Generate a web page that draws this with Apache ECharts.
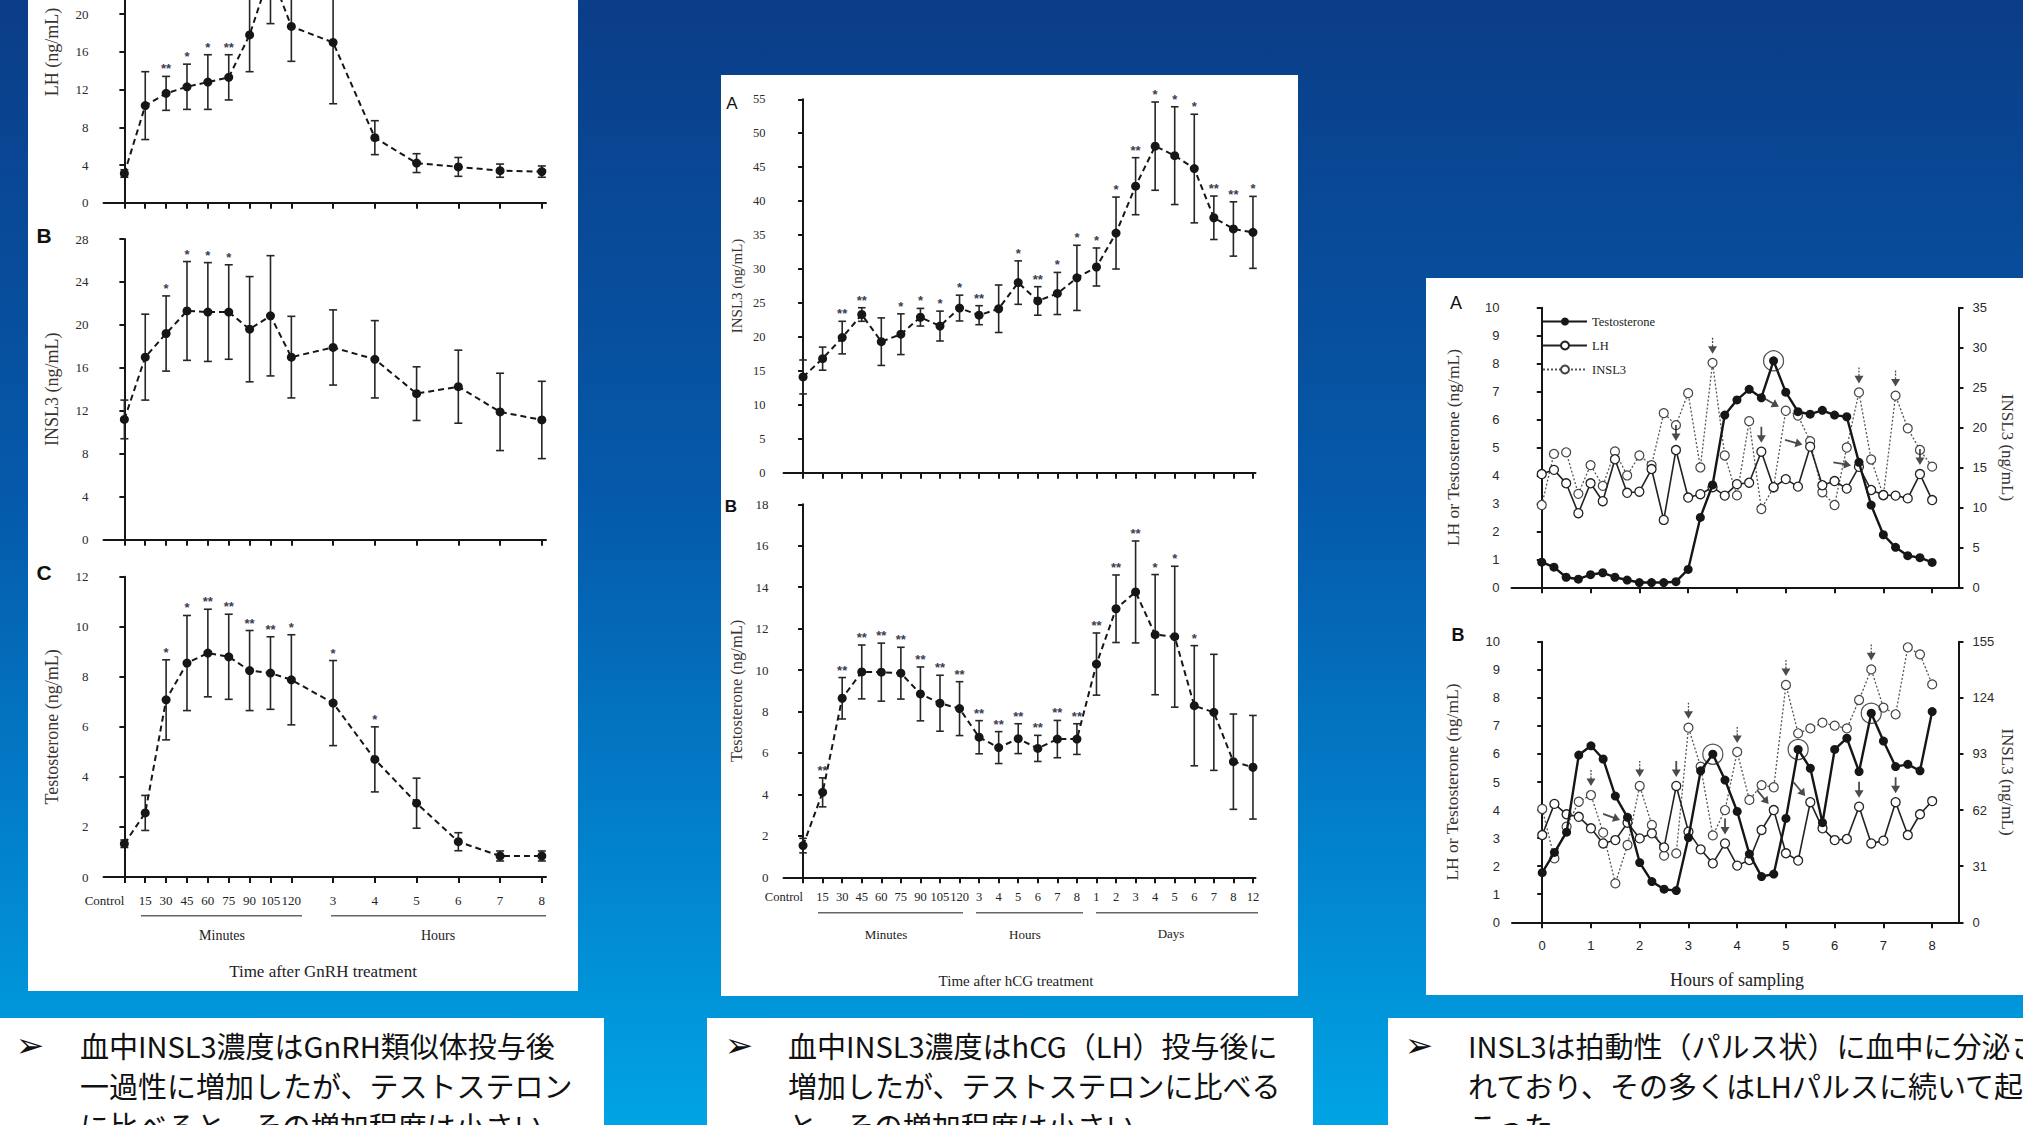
<!DOCTYPE html>
<html>
<head>
<meta charset="utf-8">
<script src="https://cdn.jsdelivr.net/npm/echarts@6.0.0/dist/echarts.min.js"></script>
<style>
  html, body { margin: 0; padding: 0; overflow: hidden; }
  #main { width: 2023px; height: 1125px; }
</style>
</head>
<body>
<div id="main"></div>
<script>
// ---- panel 1: GnRH treatment ----
const gnrhTimes = ['Control', '15', '30', '45', '60', '75', '90', '105', '120', '3', '4', '5', '6', '7', '8'];
const gnrhPos = [0, 1, 2, 3, 4, 5, 6, 7, 8, 10, 12, 14, 16, 18, 20];
const gnrhLH = [3.1, 10.3, 11.6, 12.3, 12.8, 13.3, 17.8, 24.5, 18.7, 17.0, 6.9, 4.2, 3.8, 3.4, 3.3];
const gnrhLHErr = [0.4, 3.6, 1.8, 2.4, 2.9, 2.4, 3.9, 5.5, 3.7, 6.5, 1.8, 1.0, 1.0, 0.7, 0.6];
const gnrhLHStars = ['', '', '**', '*', '*', '**', '', '', '', '', '', '', '', '', ''];
const gnrhINSL3 = [11.2, 17.0, 19.2, 21.3, 21.2, 21.2, 19.6, 20.85, 17.0, 17.9, 16.8, 13.6, 14.25, 11.9, 11.15];
const gnrhINSL3Err = [1.8, 4.0, 3.5, 4.6, 4.6, 4.4, 4.9, 5.6, 3.8, 3.5, 3.6, 2.5, 3.4, 3.6, 3.6];
const gnrhINSL3Stars = ['', '', '*', '*', '*', '*', '', '', '', '', '', '', '', '', ''];
const gnrhT = [1.33, 2.56, 7.08, 8.55, 8.95, 8.8, 8.25, 8.15, 7.88, 6.95, 4.7, 2.95, 1.41, 0.84, 0.84];
const gnrhTErr = [0.15, 0.7, 1.6, 1.9, 1.75, 1.7, 1.6, 1.45, 1.8, 1.7, 1.3, 1.0, 0.36, 0.2, 0.2];
const gnrhTStars = ['', '', '*', '*', '**', '**', '**', '**', '*', '*', '*', '', '', '', ''];

// ---- panel 2: hCG treatment ----
const hcgTimes = ['Control', '15', '30', '45', '60', '75', '90', '105', '120', '3', '4', '5', '6', '7', '8', '1', '2', '3', '4', '5', '6', '7', '8', '12'];
const hcgPos = hcgTimes.map((t, i) => i);
const hcgINSL3 = [14.1, 16.8, 19.9, 23.3, 19.3, 20.4, 22.9, 21.6, 24.25, 23.2, 24.15, 28.0, 25.3, 26.4, 28.7, 30.3, 35.3, 42.2, 48.1, 46.7, 44.8, 37.55, 35.9, 35.4];
const hcgINSL3Err = [2.5, 1.7, 2.4, 1.0, 3.5, 3.0, 1.3, 2.2, 1.9, 1.4, 3.5, 3.2, 2.1, 3.1, 4.8, 2.8, 5.3, 4.2, 6.5, 7.2, 8.0, 3.2, 4.0, 5.3];
const hcgINSL3Stars = ['', '', '**', '**', '', '*', '*', '*', '*', '**', '', '*', '**', '*', '*', '*', '*', '**', '*', '*', '*', '**', '**', '*'];
const hcgT = [1.53, 4.1, 8.64, 9.91, 9.9, 9.85, 8.85, 8.4, 8.14, 6.76, 6.26, 6.69, 6.22, 6.67, 6.67, 10.29, 12.96, 13.77, 11.71, 11.61, 8.28, 7.96, 5.58, 5.31];
const hcgTErr = [0.35, 0.7, 1.0, 1.3, 1.4, 1.25, 1.3, 1.35, 1.3, 0.8, 0.77, 0.72, 0.63, 0.9, 0.74, 1.5, 1.63, 2.46, 2.9, 3.4, 2.9, 2.8, 2.3, 2.5];
const hcgTStars = ['', '**', '**', '**', '**', '**', '**', '**', '**', '**', '**', '**', '**', '**', '**', '**', '**', '**', '*', '*', '*', '', '', ''];

// ---- panel 3: pulsatile sampling ----
const hourTicks = [0, 1, 2, 3, 4, 5, 6, 7, 8];
const hourLabels = ['0', '1', '2', '3', '4', '5', '6', '7', '8'];
const sampleHours = [0, 0.25, 0.5, 0.75, 1, 1.25, 1.5, 1.75, 2, 2.25, 2.5, 2.75, 3, 3.25, 3.5, 3.75, 4, 4.25, 4.5, 4.75, 5, 5.25, 5.5, 5.75, 6, 6.25, 6.5, 6.75, 7, 7.25, 7.5, 7.75, 8];
const pulseTA = [0.9, 0.72, 0.36, 0.29, 0.45, 0.52, 0.36, 0.26, 0.17, 0.17, 0.17, 0.2, 0.64, 2.5, 3.66, 6.16, 6.7, 7.08, 6.78, 8.1, 6.98, 6.28, 6.19, 6.33, 6.16, 6.1, 4.47, 2.94, 1.88, 1.43, 1.13, 1.06, 0.89];
const pulseLHA = [4.05, 4.2, 3.72, 2.65, 3.72, 3.08, 4.58, 3.38, 3.42, 4.23, 2.41, 4.91, 3.21, 3.33, 3.58, 3.28, 3.69, 3.74, 4.85, 3.58, 3.87, 3.6, 5.03, 3.65, 3.8, 3.53, 4.31, 3.48, 3.3, 3.28, 3.18, 4.05, 3.12];
const pulseINSL3A = [10.3, 16.7, 16.9, 11.7, 15.3, 12.7, 17.0, 14.0, 16.5, 15.3, 21.8, 20.3, 24.3, 15.0, 28.1, 16.5, 11.5, 20.8, 9.8, 12.5, 22.1, 21.5, 18.3, 11.9, 10.3, 17.5, 24.4, 16.0, 11.5, 24.0, 19.9, 17.2, 15.1];
const pulseTB = [1.77, 2.49, 3.21, 5.96, 6.29, 5.82, 4.5, 3.74, 2.13, 1.45, 1.18, 1.13, 3.02, 5.4, 5.99, 5.07, 3.95, 2.43, 1.63, 1.72, 3.7, 6.16, 5.49, 3.55, 6.16, 6.56, 5.37, 7.45, 6.46, 5.55, 5.63, 5.4, 7.51];
const pulseLHB = [3.11, 4.22, 3.85, 3.76, 3.35, 2.81, 2.93, 3.55, 2.99, 3.17, 2.67, 4.86, 3.23, 2.6, 2.1, 2.81, 2.02, 2.22, 3.29, 4.0, 2.46, 2.2, 4.28, 3.35, 2.93, 2.97, 4.12, 2.81, 2.91, 4.28, 3.11, 3.85, 4.32];
const pulseINSL3B = [62.6, 35.3, 52.8, 66.6, 70.3, 49.5, 21.5, 42.7, 75.3, 53.8, 36.8, 38.1, 107.5, 86.0, 48.0, 62.0, 94.1, 67.6, 75.8, 74.6, 131.1, 104.4, 107.1, 110.3, 108.6, 107.1, 122.8, 139.7, 118.6, 114.9, 151.9, 148.0, 131.4];

// annotations on panel 3 (sample indexes)
const lhArrowsA = [11, 18, 31];
const insl3ArrowsA = [14, 26, 29];
const ringsA = [19];
const diagINSL3A = [[20, -30]];
const diagLHA = [[22, -15], [26, -10]];
const lhArrowsB = [11, 15, 26, 29];
const insl3ArrowsB = [4, 8, 12, 16, 20, 27];
const ringsB = [14, 21, 27];
const diagLHB = [[7, -20], [19, -50], [22, -50]];

// ---- text boxes ----
const box1Lines = ['血中INSL3濃度はGnRH類似体投与後', '一過性に増加したが、テストステロン', 'に比べると、その増加程度は小さい'];
const box2Lines = ['血中INSL3濃度はhCG（LH）投与後に', '増加したが、テストステロンに比べる', 'と、その増加程度は小さい'];
const box3Lines = ['INSL3は拍動性（パルス状）に血中に分泌さ', 'れており、その多くはLHパルスに続いて起', 'こった'];

const SERIF = '"Liberation Serif", "Times New Roman", serif';
const SANS = '"Liberation Sans", Arial, sans-serif';
const NARROW = '"Liberation Sans Narrow", "Liberation Sans", sans-serif';
const JP = '"Noto Sans CJK JP", sans-serif';
const INK = '#161616';

const chart = echarts.init(document.getElementById('main'), null, { renderer: 'svg', width: 2023, height: 1125 });

const xAxisFor = (grid, min, max, ticks, labels, label) => ({
    type: 'value', gridIndex: grid, min, max,
    axisLine: { onZero: false, lineStyle: { color: INK, width: 2 } },
    axisTick: { show: true, customValues: ticks, length: 6, lineStyle: { color: INK, width: 2 } },
    axisLabel: labels ? Object.assign({
        customValues: ticks,
        formatter: (v) => labels[ticks.indexOf(v)],
        showMinLabel: true, showMaxLabel: true, hideOverlap: false,
        alignMinLabel: 'right',
        color: '#222'
    }, label) : { show: false },
    splitLine: { show: false }
});

const yAxisFor = (grid, max, interval, name, gap, nameSize, extra) => Object.assign({
    type: 'value', gridIndex: grid, min: 0, max, interval,
    name, nameLocation: 'middle', nameGap: gap,
    nameTextStyle: { fontFamily: SERIF, fontSize: nameSize, color: '#3a3430' },
    axisLine: { show: true, lineStyle: { color: INK, width: 2 } },
    axisTick: { show: true, length: 5, lineStyle: { color: INK, width: 2 } },
    axisLabel: { fontFamily: SERIF, fontSize: 13, color: '#2a2a2a', margin: 15 },
    splitLine: { show: false }
}, extra);

const errorBars = (axis, xs, means, errs, stars, cap) => ({
    type: 'custom', xAxisIndex: axis, yAxisIndex: axis, silent: true, z: 3,
    data: xs.map((x, i) => [x, means[i] - errs[i], means[i] + errs[i], i]),
    renderItem: (params, api) => {
        const lo = api.coord([api.value(0), api.value(1)]);
        const hi = api.coord([api.value(0), api.value(2)]);
        const st = { stroke: '#262626', lineWidth: 1.6 };
        const kids = [
            { type: 'line', shape: { x1: lo[0], y1: lo[1], x2: hi[0], y2: hi[1] }, style: st },
            { type: 'line', shape: { x1: lo[0] - cap, y1: lo[1], x2: lo[0] + cap, y2: lo[1] }, style: st },
            { type: 'line', shape: { x1: hi[0] - cap, y1: hi[1], x2: hi[0] + cap, y2: hi[1] }, style: st }
        ];
        const s = stars[api.value(3)];
        if (s) {
            kids.push({ type: 'text', style: { text: s, x: hi[0], y: hi[1] - 1, align: 'center', verticalAlign: 'bottom', font: 'bold 13px ' + SANS, fill: '#3b3d52' } });
        }
        return { type: 'group', children: kids };
    }
});

const dashedLine = (axis, xs, vals) => ({
    type: 'line', xAxisIndex: axis, yAxisIndex: axis, silent: true, z: 4,
    data: xs.map((x, i) => [x, vals[i]]),
    symbol: 'circle', symbolSize: 9,
    itemStyle: { color: INK },
    lineStyle: { color: INK, width: 2, type: [6, 4] }
});

const pulseLine = (name, xAxis, yAxis, vals, kind) => {
    const s = {
        name, type: 'line', xAxisIndex: xAxis, yAxisIndex: yAxis, silent: true,
        data: sampleHours.map((h, i) => [h, vals[i]]),
        symbol: 'circle', symbolSize: 9
    };
    if (kind === 'T') {
        s.z = 5;
        s.itemStyle = { color: INK };
        s.lineStyle = { color: INK, width: 2.4 };
    } else if (kind === 'LH') {
        s.z = 4;
        s.itemStyle = { color: '#fff', borderColor: '#222', borderWidth: 1.3 };
        s.lineStyle = { color: '#222', width: 1.6 };
    } else {
        s.z = 3;
        s.itemStyle = { color: '#fff', borderColor: '#444', borderWidth: 1.2 };
        s.lineStyle = { color: '#555', width: 1.3, type: [2, 2] };
    }
    return s;
};

const DOWN_SOLID = 'path://M4,0h2v10h-2z M0,9h10l-5,8z';
const DOWN_DOTTED = 'path://M4.3,0h1.4v2h-1.4z M4.3,3.5h1.4v2h-1.4z M4.3,7h1.4v2h-1.4z M0,9h10l-5,8z';
const RIGHT_ARROW = 'path://M0,4.2L11,4.2L11,1L18,5L11,9L11,5.8L0,5.8Z';

const downArrows = (xAxis, yAxis, idxs, vals, path) => ({
    type: 'scatter', xAxisIndex: xAxis, yAxisIndex: yAxis, silent: true, z: 6,
    symbol: path, symbolSize: [9, 16], symbolOffset: [0, -17],
    itemStyle: { color: '#1e1e1e' },
    data: idxs.map(i => [sampleHours[i], vals[i]])
});

const diagArrows = (xAxis, yAxis, items, vals) => ({
    type: 'scatter', xAxisIndex: xAxis, yAxisIndex: yAxis, silent: true, z: 6,
    symbol: RIGHT_ARROW, symbolSize: [18, 9],
    itemStyle: { color: '#1e1e1e' },
    data: items.map(([i, rot]) => {
        const a = -rot * Math.PI / 180;
        return { value: [sampleHours[i], vals[i]], symbolRotate: rot, symbolOffset: [-17 * Math.cos(a), -17 * Math.sin(a)] };
    })
});

const rings = (xAxis, yAxis, idxs, vals) => ({
    type: 'scatter', xAxisIndex: xAxis, yAxisIndex: yAxis, silent: true, z: 6,
    symbol: 'circle', symbolSize: 20,
    itemStyle: { color: 'rgba(0,0,0,0)', borderColor: '#222', borderWidth: 1.2 },
    data: idxs.map(i => [sampleHours[i], vals[i]])
});

const txt = (text, x, y, font, extra) => ({
    type: 'text', z: 8, silent: true,
    style: Object.assign({ text, x, y, font, fill: '#222', align: 'center', verticalAlign: 'middle' }, extra)
});
const rule = (x1, x2, y) => ({ type: 'line', z: 8, silent: true, shape: { x1, y1: y, x2, y2: y }, style: { stroke: '#666', lineWidth: 1.5 } });
const panel = (x, y, w, h) => ({ type: 'rect', z: -10, silent: true, shape: { x, y, width: w, height: h }, style: { fill: '#fff' } });
const boxText = (lines, x, bulletX) => [
    txt('➢', bulletX, 1045, '34px "DejaVu Sans"', { fill: '#111' }),
    txt(lines.join('\n'), x, 1025, '29px ' + JP, { align: 'left', verticalAlign: 'top', lineHeight: 40, fill: '#111' })
];

const option = {
    animation: false,
    backgroundColor: new echarts.graphic.LinearGradient(0, 0, 0, 1, [
        { offset: 0, color: '#0b3d88' },
        { offset: 0.45, color: '#055aab' },
        { offset: 0.8, color: '#0288d1' },
        { offset: 1, color: '#00a4e4' }
    ]),
    grid: [
        { left: 103.5, top: -98.9, width: 442.5, height: 301.6, outerBoundsMode: 'none' },
        { left: 103.5, top: 239, width: 442.5, height: 300.7, outerBoundsMode: 'none' },
        { left: 103.5, top: 576.7, width: 442.5, height: 300.3, outerBoundsMode: 'none' },
        { left: 783.5, top: 99.3, width: 472, height: 373.4, outerBoundsMode: 'none' },
        { left: 783.5, top: 504.3, width: 472, height: 373, outerBoundsMode: 'none' },
        { left: 1511.5, top: 307.7, width: 447, height: 279.6, outerBoundsMode: 'none' },
        { left: 1512, top: 641.7, width: 446.5, height: 280.6, outerBoundsMode: 'none' }
    ],
    xAxis: [
        xAxisFor(0, -1, 20.2, gnrhPos),
        xAxisFor(1, -1, 20.2, gnrhPos),
        xAxisFor(2, -1, 20.2, gnrhPos, gnrhTimes, { fontFamily: SERIF, fontSize: 13, margin: 17 }),
        xAxisFor(3, -1, 23.13, hcgPos),
        xAxisFor(4, -1, 23.13, hcgPos, hcgTimes, { fontFamily: SERIF, fontSize: 12.5, margin: 13 }),
        xAxisFor(5, -0.62, 8.54, hourTicks),
        xAxisFor(6, -0.62, 8.54, hourTicks, hourLabels, { fontFamily: NARROW, fontSize: 13, margin: 17, alignMinLabel: 'center' })
    ],
    yAxis: [
        yAxisFor(0, 32, 4, 'LH (ng/mL)', 43, 18),
        yAxisFor(1, 28, 4, 'INSL3 (ng/mL)', 43, 18),
        yAxisFor(2, 12, 2, 'Testosterone (ng/mL)', 43, 18),
        yAxisFor(3, 55, 5, 'INSL3 (ng/mL)', 39, 15, { axisLabel: { fontFamily: SERIF, fontSize: 12.5, color: '#2a2a2a', margin: 18 } }),
        yAxisFor(4, 18, 2, 'Testosterone (ng/mL)', 39, 16.5, { axisLabel: { fontFamily: SERIF, fontSize: 13, color: '#2a2a2a', margin: 15 } }),
        yAxisFor(5, 10, 1, 'LH or Testosterone (ng/mL)', 50, 17.5, { axisLabel: { fontFamily: NARROW, fontSize: 13, color: '#2a2a2a', margin: 12 } }),
        yAxisFor(6, 10, 1, 'LH or Testosterone (ng/mL)', 51, 17.5, { axisLabel: { fontFamily: NARROW, fontSize: 13, color: '#2a2a2a', margin: 12 } }),
        yAxisFor(5, 35, 5, 'INSL3 (ng/mL)', 40, 17, { position: 'right', nameRotate: -90, axisLabel: { fontFamily: NARROW, fontSize: 13, color: '#2a2a2a', margin: 14 } }),
        yAxisFor(6, 155, 31, 'INSL3 (ng/mL)', 40, 17, { position: 'right', nameRotate: -90, axisLabel: { fontFamily: NARROW, fontSize: 13, color: '#2a2a2a', margin: 14 } })
    ],
    legend: {
        data: ['Testosterone', 'LH', 'INSL3'],
        orient: 'vertical', left: 1537, top: 310,
        itemWidth: 44, itemHeight: 10, itemGap: 11,
        selectedMode: false,
        textStyle: { fontFamily: SERIF, fontSize: 12.5, color: '#222' }
    },
    series: [
        errorBars(0, gnrhPos, gnrhLH, gnrhLHErr, gnrhLHStars, 4),
        dashedLine(0, gnrhPos, gnrhLH),
        errorBars(1, gnrhPos, gnrhINSL3, gnrhINSL3Err, gnrhINSL3Stars, 4),
        dashedLine(1, gnrhPos, gnrhINSL3),
        errorBars(2, gnrhPos, gnrhT, gnrhTErr, gnrhTStars, 4),
        dashedLine(2, gnrhPos, gnrhT),
        errorBars(3, hcgPos, hcgINSL3, hcgINSL3Err, hcgINSL3Stars, 3.8),
        dashedLine(3, hcgPos, hcgINSL3),
        errorBars(4, hcgPos, hcgT, hcgTErr, hcgTStars, 3.8),
        dashedLine(4, hcgPos, hcgT),

        pulseLine('Testosterone', 5, 5, pulseTA, 'T'),
        pulseLine('LH', 5, 5, pulseLHA, 'LH'),
        pulseLine('INSL3', 5, 7, pulseINSL3A, 'INSL3'),
        downArrows(5, 5, lhArrowsA, pulseLHA, DOWN_SOLID),
        downArrows(5, 7, insl3ArrowsA, pulseINSL3A, DOWN_DOTTED),
        diagArrows(5, 7, diagINSL3A, pulseINSL3A),
        diagArrows(5, 5, diagLHA, pulseLHA),
        rings(5, 5, ringsA, pulseTA),

        pulseLine('Testosterone B', 6, 6, pulseTB, 'T'),
        pulseLine('LH B', 6, 6, pulseLHB, 'LH'),
        pulseLine('INSL3 B', 6, 8, pulseINSL3B, 'INSL3'),
        downArrows(6, 6, lhArrowsB, pulseLHB, DOWN_SOLID),
        downArrows(6, 8, insl3ArrowsB, pulseINSL3B, DOWN_DOTTED),
        diagArrows(6, 6, diagLHB, pulseLHB),
        rings(6, 6, ringsB, pulseTB)
    ],
    graphic: [
        panel(28, 0, 550, 991),
        panel(721, 75, 577, 921),
        panel(1426, 278, 600, 717),
        panel(0, 1018, 604, 110),
        panel(707, 1018, 606, 110),
        panel(1388, 1018, 640, 110),

        // panel letters
        txt('B', 44, 235, 'bold 21px ' + SANS, { fill: '#111' }),
        txt('C', 44, 572, 'bold 21px ' + SANS, { fill: '#111' }),
        txt('A', 732, 103, '17px ' + SANS, { fill: '#111' }),
        txt('B', 731, 506, 'bold 17px ' + SANS, { fill: '#111' }),
        txt('A', 1456, 303, '18px ' + SANS, { fill: '#111' }),
        txt('B', 1458, 635, 'bold 18px ' + SANS, { fill: '#111' }),

        // axis group captions
        rule(141, 302, 915.7), rule(331, 546, 915.7),
        txt('Minutes', 222, 935, '14px ' + SERIF),
        txt('Hours', 438, 935, '14px ' + SERIF),
        txt('Time after GnRH treatment', 323, 971, '17px ' + SERIF),
        rule(818, 963, 912.7), rule(976, 1083, 912.7), rule(1096, 1258, 912.7),
        txt('Minutes', 886, 934, '13px ' + SERIF),
        txt('Hours', 1025, 934, '13px ' + SERIF),
        txt('Days', 1171, 933, '13px ' + SERIF),
        txt('Time after hCG treatment', 1016, 981, '15px ' + SERIF),
        txt('Hours of sampling', 1737, 980, '18px ' + SERIF),

        ...boxText(box1Lines, 80, 30),
        ...boxText(box2Lines, 788, 739),
        ...boxText(box3Lines, 1468, 1419)
    ]
};

chart.setOption(option);
</script>
</body>
</html>
